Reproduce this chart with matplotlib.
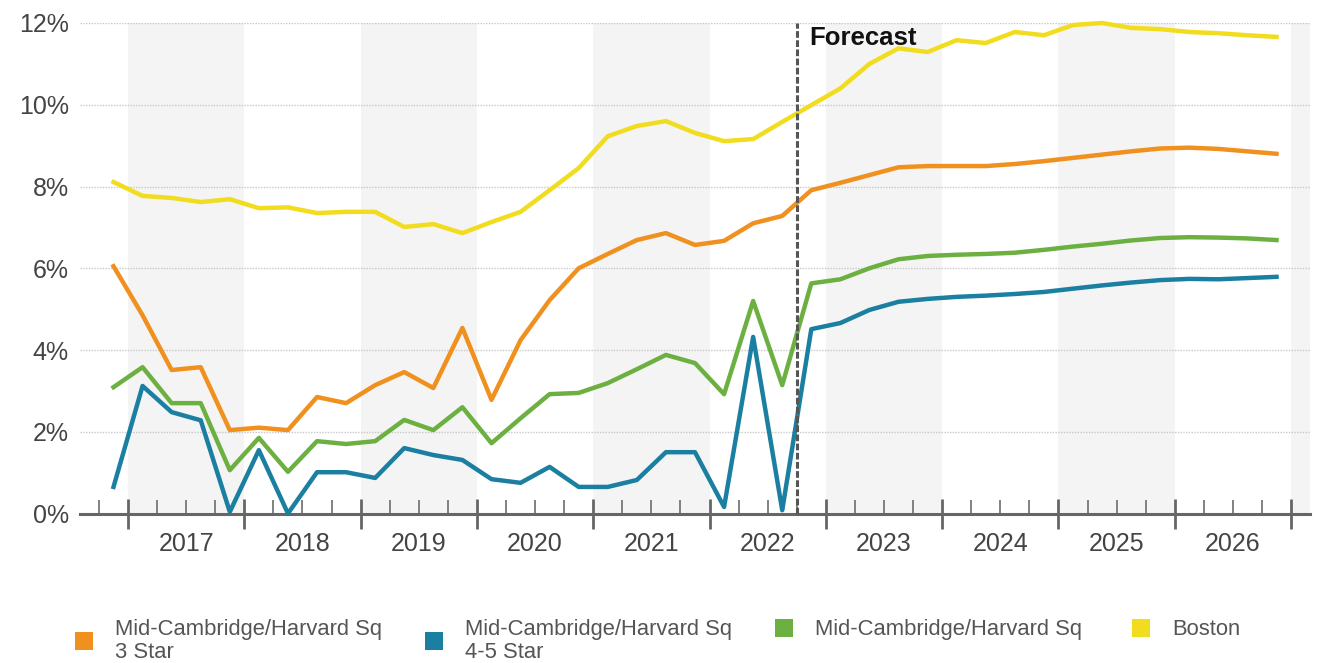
import numpy as np
import pandas as pd
import matplotlib
matplotlib.use('Agg')
import matplotlib.pyplot as plt
from matplotlib.patches import Rectangle
from matplotlib.ticker import FixedLocator, FuncFormatter

plt.rcParams['font.family'] = ['Liberation Sans', 'DejaVu Sans']

# 季度数据 2016Q4 - 2026Q4（空置率 %）
quarters = pd.period_range('2016Q4', '2026Q4', freq='Q')
boston = [8.11, 7.77, 7.72, 7.62, 7.69, 7.47, 7.49, 7.35, 7.38, 7.38, 7.01, 7.08, 6.86, 7.13,
          7.38, 7.91, 8.45, 9.23, 9.48, 9.60, 9.31, 9.11, 9.16, 9.58, 9.99, 10.40, 11.00, 11.38,
          11.29, 11.58, 11.51, 11.78, 11.70, 11.95, 12.00, 11.88, 11.85, 11.78, 11.75, 11.70, 11.66]
star3 = [6.05, 4.85, 3.51, 3.58, 2.04, 2.10, 2.04, 2.85, 2.70, 3.14, 3.46, 3.07, 4.54, 2.78,
         4.24, 5.22, 6.00, 6.35, 6.69, 6.86, 6.57, 6.67, 7.10, 7.28, 7.91, 8.09, 8.28, 8.47,
         8.50, 8.50, 8.50, 8.55, 8.62, 8.70, 8.78, 8.86, 8.93, 8.95, 8.92, 8.86, 8.80]
total = [3.09, 3.58, 2.70, 2.70, 1.06, 1.85, 1.02, 1.77, 1.70, 1.77, 2.29, 2.04, 2.60, 1.72,
         2.33, 2.92, 2.95, 3.19, 3.53, 3.88, 3.68, 2.92, 5.20, 3.14, 5.63, 5.73, 6.00, 6.22,
         6.30, 6.33, 6.35, 6.38, 6.45, 6.53, 6.60, 6.68, 6.74, 6.76, 6.75, 6.73, 6.69]
star45 = [0.65, 3.12, 2.48, 2.28, 0.04, 1.55, 0.00, 1.01, 1.01, 0.87, 1.60, 1.43, 1.31, 0.84,
          0.75, 1.14, 0.65, 0.65, 0.82, 1.50, 1.50, 0.16, 4.32, 0.08, 4.51, 4.66, 4.98, 5.18,
          5.25, 5.30, 5.33, 5.37, 5.42, 5.50, 5.58, 5.65, 5.71, 5.74, 5.73, 5.76, 5.79]

years = list(range(2017, 2027))
yticks = [0, 2, 4, 6, 8, 10, 12]
forecast_start = '2022Q4'

labels = ['Mid-Cambridge/Harvard Sq\n3 Star', 'Mid-Cambridge/Harvard Sq\n4-5 Star',
          'Mid-Cambridge/Harvard Sq', 'Boston']
colors = ['#F0901E', '#1A7FA0', '#6DB042', '#F2DC1E']

# 季度中点换算成小数年份
x = np.array([q.year + (q.quarter - 1) / 4 + 0.125 for q in quarters])

W, H = 1324, 663
fig = plt.figure(figsize=(W / 100, H / 100), dpi=100)
ax = fig.add_axes([80 / W, 1 - 513.5 / H, 1230 / W, 490.5 / H])

x0, x1 = 2016.587, 2027.163
ax.set_xlim(x0, x1)
ax.set_ylim(0, 12)

# 隔年灰色背景
for y in range(2017, 2029, 2):
    ax.axvspan(y, min(y + 1, x1), color='#F4F4F4', lw=0, zorder=0)

for yv in yticks[1:]:
    ax.axhline(yv, color='#C8C8C8', lw=1.0, ls=(0, (1, 1)), zorder=1)

series = [(boston, colors[3]), (star3, colors[0]), (total, colors[2]), (star45, colors[1])]
for vals, c in series:
    ax.plot(x, vals, color=c, lw=3.2, zorder=3, clip_on=False)

# 预测分界线
fp = pd.Period(forecast_start, freq='Q')
fx = fp.year + (fp.quarter - 1) / 4
ax.plot([fx, fx], [0, 12], color='#555555', lw=2.2, ls=(0, (2.2, 0.8)), zorder=4, clip_on=False)
ax.text(fx + 0.11, 11.45, 'Forecast', fontsize=18.5, fontweight='bold', color='#111111',
        ha='left', va='baseline', zorder=5)

# 坐标轴
for s in ['top', 'right', 'left']:
    ax.spines[s].set_visible(False)
ax.spines['bottom'].set_color('#666666')
ax.spines['bottom'].set_linewidth(2.2)
ax.spines['bottom'].set_zorder(2)

ax.xaxis.set_major_locator(FixedLocator(years + [2027]))
ax.xaxis.set_minor_locator(FixedLocator(np.arange(2016.75, 2027.01, 0.25)))
ax.tick_params(axis='x', which='major', direction='inout', length=22, width=2.0,
               color='#666666', labelbottom=False)
ax.tick_params(axis='x', which='minor', direction='in', length=10, width=1.3,
               color='#777777')
for y in years:
    ax.text(y + 0.5, -0.45, str(y), transform=ax.transData, ha='center', va='top',
            fontsize=18, color='#444444')

ax.set_yticks(yticks)
ax.yaxis.set_major_formatter(FuncFormatter(lambda v, p: f'{v:.0f}%'))
ax.tick_params(axis='y', length=0, pad=8, labelsize=18, labelcolor='#444444')

# 图例（手动绘制方块和文字）
leg_x = [75, 425, 775, 1132]
for lx, lab, c in zip(leg_x, labels, colors):
    nlines = lab.count('\n') + 1
    cy = 628 if nlines == 1 else 641
    fig.patches.append(Rectangle((lx / W, 1 - (cy + 9) / H), 18 / W, 18 / H,
                                 transform=fig.transFigure, color=c, lw=0))
    fig.text((lx + 40) / W, 1 - 619 / H, lab, ha='left', va='top', fontsize=15.8,
             color='#555555', linespacing=1.1)

fig.savefig('out.png', dpi=100)
